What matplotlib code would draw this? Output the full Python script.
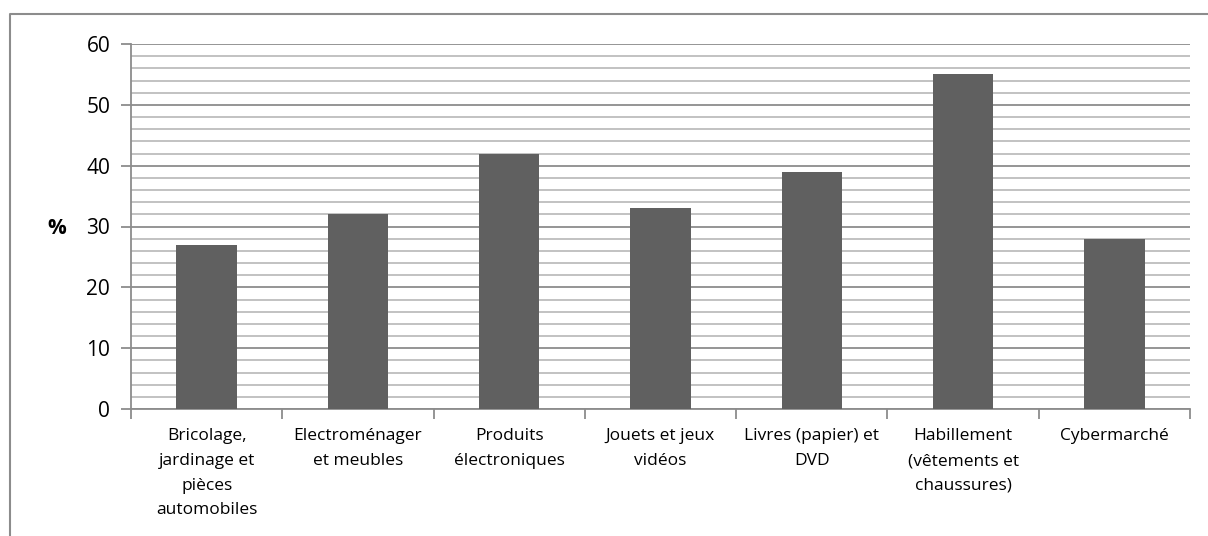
import matplotlib.pyplot as plt
from matplotlib.lines import Line2D
import numpy as np

categories = [
    "Bricolage,\njardinage et\npièces\nautomobiles",
    "Electroménager\net meubles",
    "Produits\nélectroniques",
    "Jouets et jeux\nvidéos",
    "Livres (papier) et\nDVD",
    "Habillement\n(vêtements et\nchaussures)",
    "Cybermarché",
]
valeurs = [27, 32, 42, 33, 39, 55, 28]
yticks = [0, 10, 20, 30, 40, 50, 60]

plt.rcParams['font.family'] = ['Open Sans', 'DejaVu Sans']

W, H = 1208, 536
fig = plt.figure(figsize=(W / 100, H / 100), dpi=100)
ax = fig.add_axes([131 / W, 1 - 409 / H, (1190 - 131) / W, (409 - 44) / H])

x = np.arange(len(categories))
ax.bar(x, valeurs, width=0.4, color='#606060', zorder=3)

ax.set_xlim(-0.5, len(categories) - 0.5)
ax.set_ylim(0, 60)

# grille principale et secondaire
ax.set_yticks(yticks)
ax.set_yticks(np.arange(0, 61, 2), minor=True)
ax.grid(axis='y', which='major', color='#8c8c8c', linewidth=1.3, zorder=0)
ax.grid(axis='y', which='minor', color='#bdbdbd', linewidth=1.3, zorder=0)
ax.tick_params(axis='y', which='minor', length=0)
ax.tick_params(axis='y', which='major', length=7, width=1.3, color='#8c8c8c',
               labelsize=15, pad=8)

# graduations de l'axe x entre les catégories
ax.set_xticks(np.arange(-0.5, len(categories) + 0.5, 1))
ax.set_xticklabels([])
ax.set_xticks(x, minor=True)
ax.set_xticklabels(categories, minor=True, fontsize=12.5, linespacing=1.72)
ax.tick_params(axis='x', which='minor', length=0, pad=14)
ax.tick_params(axis='x', which='major', length=7, width=1.3, color='#8c8c8c')

for s in ['top', 'right']:
    ax.spines[s].set_visible(False)
for s in ['left', 'bottom']:
    ax.spines[s].set_color('#8c8c8c')
    ax.spines[s].set_linewidth(1.3)

fig.text(57 / W, 1 - 228 / H, '%', fontsize=15, fontweight='bold',
         ha='center', va='center')

# cadre extérieur
fig.add_artist(Line2D([10 / W, 10 / W, 1], [0, 1 - 14 / H, 1 - 14 / H],
                      transform=fig.transFigure, color='#8c8c8c', linewidth=1.5))

fig.savefig('out.png', dpi=100)
